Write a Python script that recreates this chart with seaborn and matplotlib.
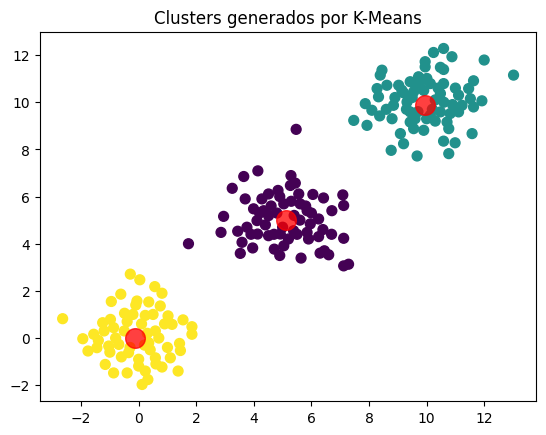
import numpy as np
import pandas as pd
import seaborn as sns
import matplotlib.pyplot as plt

# cluster 0 (purple)
x0 = [5.47, 4.14, 3.65, 3.25, 5.29, 5.44, 5.27, 4.84, 4.51, 3.70, 4.28, 5.56, 6.05, 6.42,
      7.09, 7.12, 6.71, 3.99, 2.95, 4.34, 5.04, 5.61, 5.85, 4.51, 4.11, 6.25, 5.96, 2.86,
      3.44, 3.76, 4.13, 4.51, 4.92, 5.38, 5.85, 6.25, 3.59, 3.96, 4.71, 5.04, 3.53, 5.64,
      6.45, 6.60, 7.12, 7.12, 7.29, 1.73,
      4.8, 5.4, 5.0, 5.6, 4.6, 5.3, 4.4, 5.8, 4.9, 5.5, 4.2, 6.0, 5.2, 4.7, 5.9, 6.4,
      3.9, 4.9, 6.3, 6.7]
y0 = [8.85, 7.09, 6.85, 6.35, 6.89, 6.57, 6.47, 6.26, 6.11, 5.90, 5.90, 6.11, 6.09, 5.94,
      6.07, 5.62, 5.40, 5.48, 5.16, 5.40, 5.69, 5.69, 5.40, 5.19, 4.98, 5.05, 4.84, 4.48,
      4.53, 4.70, 4.41, 4.34, 4.41, 4.55, 4.48, 4.30, 4.06, 3.82, 3.77, 3.91, 3.59, 3.39,
      3.70, 3.53, 4.23, 3.06, 3.13, 4.00,
      5.3, 5.2, 4.7, 5.0, 5.6, 5.8, 4.8, 5.6, 6.0, 4.4, 5.3, 5.3, 4.2, 4.4, 4.2, 4.6,
      4.4, 3.5, 3.6, 4.4]

# cluster 1 (teal)
x1 = [10.59, 10.24, 10.88, 12.00, 13.02, 8.45, 8.39, 9.95, 9.95, 10.48, 10.59, 9.72, 10.01,
      9.43, 9.03, 8.62, 8.28, 9.14, 9.61, 10.13, 10.59, 11.63, 11.46, 8.33, 7.87, 8.10, 8.85,
      9.32, 9.55, 10.48, 11.11, 11.52, 11.92, 11.23, 11.63, 7.47, 7.93, 8.37, 9.43, 9.43,
      10.13, 10.48, 10.82, 11.11, 10.71, 10.77, 9.90, 9.55, 9.09, 11.58, 9.20, 10.59, 10.99,
      8.77, 9.67, 10.77,
      9.5, 10.3, 9.7, 10.2, 9.9, 10.6, 9.3, 10.0, 8.9, 9.2, 10.4, 9.6, 10.9, 8.6, 9.8,
      10.3, 11.0, 8.8]
y1 = [12.28, 12.11, 11.93, 11.79, 11.15, 11.36, 11.15, 11.72, 11.50, 11.48, 11.39, 11.08, 11.01,
      10.87, 10.72, 10.72, 10.58, 10.51, 10.72, 10.79, 10.79, 10.91, 10.58, 10.23, 9.94, 9.66,
      9.87, 10.01, 10.44, 10.37, 10.30, 10.15, 10.06, 9.87, 9.80, 9.23, 9.02, 9.42, 9.59, 9.16,
      9.45, 9.59, 9.52, 9.59, 9.16, 8.88, 8.81, 8.88, 8.67, 8.67, 8.24, 8.35, 8.28,
      7.96, 7.72, 7.82,
      10.2, 10.1, 9.6, 9.7, 10.5, 10.0, 9.7, 9.3, 10.2, 10.4, 10.6, 9.3, 9.9, 9.7, 10.9,
      9.2, 10.6, 9.3]

# cluster 2 (yellow)
x2 = [-0.29, 0.04, 0.56, 0.81, -0.62, -0.95, -0.06, 0.35, 0.75, -2.64, -0.49, 0.23, 1.02,
      1.54, -0.98, -1.25, 1.85, 1.16, 1.85, -1.94, -1.56, -0.87, 0.58, 1.42, 1.45, -1.76,
      -1.45, -1.04, -0.69, 0.35, -0.35, 0.58, 1.10, -1.16, -0.87, -0.40, 0.00, 0.23, 0.81,
      1.37, 0.32, 0.12,
      -0.5, 0.3, -0.3, 0.4, -0.8, 0.1, -0.2, 0.7, -0.6, 0.0, -1.2, 0.9, -0.4, 0.5, -1.0,
      0.2, -0.1, 0.6, 1.0, -1.4]
y2 = [2.71, 2.47, 2.18, 1.90, 1.86, 1.55, 1.57, 1.53, 1.36, 0.82, 1.05, 0.96, 0.94,
      0.77, 0.79, 0.65, 0.48, 0.58, 0.16, -0.03, 0.16, 0.44, 0.30, -0.23, -0.53, -0.55,
      -0.41, -0.34, -0.27, -0.20, -0.62, -0.84, -0.84, -1.12, -1.48, -1.48, -1.19, -1.40, -1.23,
      -1.40, -1.76, -1.97,
      0.3, 0.2, -0.4, -0.5, 0.0, 0.6, 1.0, 0.0, -0.8, -0.9, 0.3, 0.6, 0.7, 1.0, -0.6,
      -0.3, 1.4, -1.1, -0.4, -0.1]

# centroids
cx = [5.13, 9.93, -0.12]
cy = [5.02, 9.87, 0.01]

colors = ['#440154', '#21918c', '#fde725']

df = pd.DataFrame({
    'x': x0 + x1 + x2,
    'y': y0 + y1 + y2,
    'cluster': [0] * len(x0) + [1] * len(x1) + [2] * len(x2),
})

fig, ax = plt.subplots(figsize=(6.4, 4.8), dpi=100)
sns.scatterplot(data=df, x='x', y='y', hue='cluster', palette=colors, s=50,
                edgecolor='face', linewidth=1, legend=False, ax=ax)
sns.scatterplot(x=cx, y=cy, color='red', s=200, alpha=0.75,
                edgecolor='face', linewidth=1, ax=ax)
ax.set_title('Clusters generados por K-Means')
ax.set_xlabel('')
ax.set_ylabel('')
plt.savefig('out.png', dpi=100, bbox_inches='tight')
